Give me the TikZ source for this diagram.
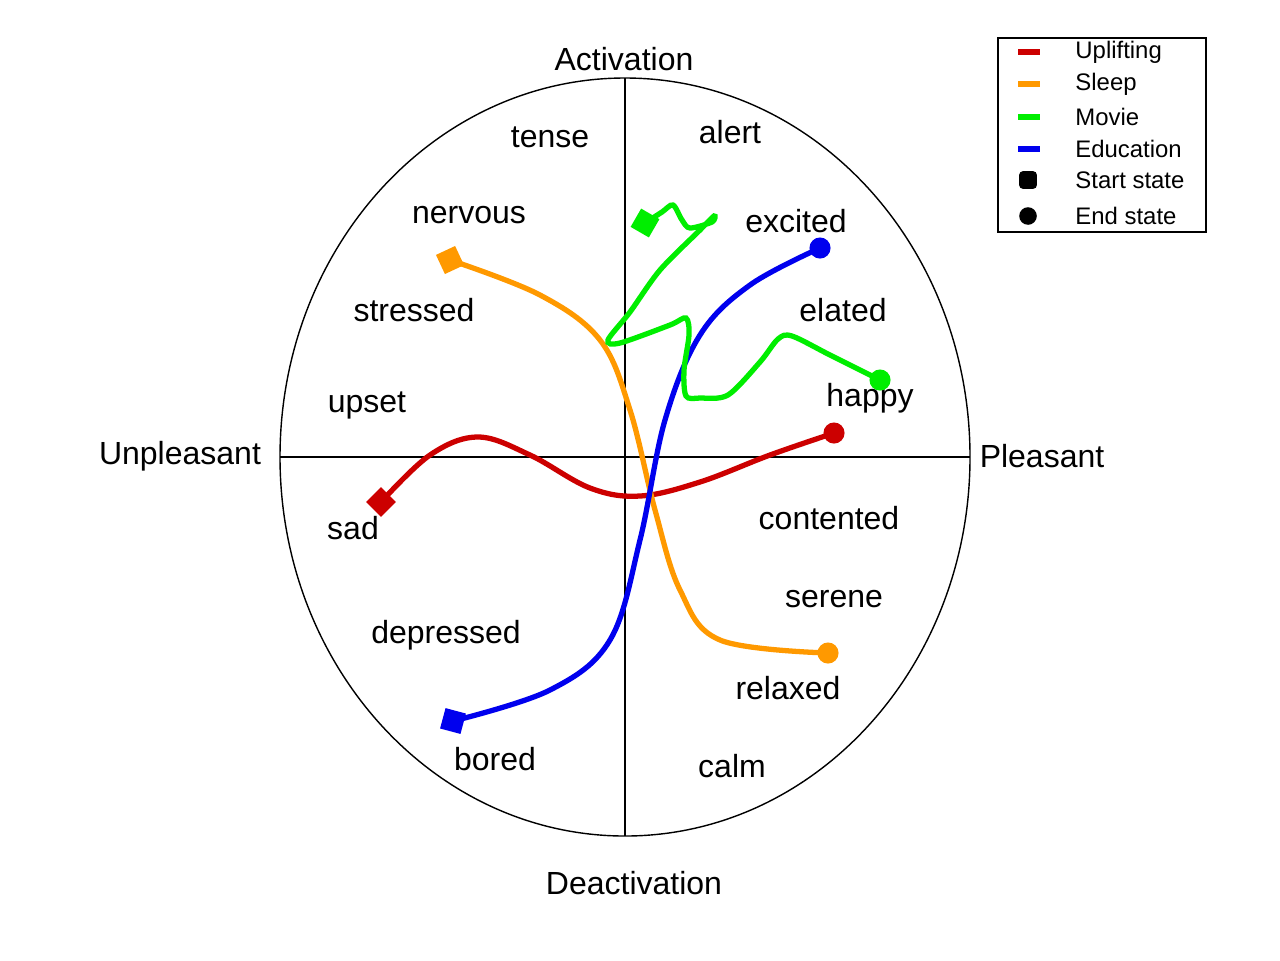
\documentclass[tikz,border=0pt]{standalone}
\usepackage{fontspec}
\setmainfont{Liberation Sans}
\definecolor{upred}{RGB}{204,0,0}
\definecolor{sleeporange}{RGB}{255,153,0}
\definecolor{moviegreen}{RGB}{0,238,0}
\definecolor{edublue}{RGB}{0,0,238}
\begin{document}
\begin{tikzpicture}[x=0.01cm,y=-0.01cm,
  emo/.style={font=\fontsize{9.1}{11}\selectfont},
  path/.style={line width=1.5pt},
  startmark/.style={fill,minimum size=6pt,inner sep=0pt},
  endmark/.style={circle,fill,minimum size=6pt,inner sep=0pt},
  legtext/.style={font=\fontsize{6.8}{8}\selectfont,anchor=west}]
\useasboundingbox (0,0) rectangle (1280,960);
\draw (625,457) ellipse [x radius=345, y radius=379];
\draw (625,78) -- (625,836);
\draw (280,457) -- (970,457);

\node[emo] (act) at (624,59) {Activation};
\node[emo] (deact) at (634,883) {Deactivation};
\node[emo] (unpl) at (180,456) {Unpleasant};
\node[emo] (pl) at (1042,456) {Pleasant};

\node[emo] (tense) at (550,137) {tense};
\node[emo] (alert) at (730,132) {alert};
\node[emo] (nervous) at (469,215) {nervous};
\node[emo] (excited) at (796,221) {excited};
\node[emo] (stressed) at (414,310) {stressed};
\node[emo] (elated) at (843,310) {elated};
\node[emo] (upset) at (367,405) {upset};
\node[emo] (happy) at (870,398) {happy};
\node[emo] (sad) at (353,528) {sad};
\node[emo] (contented) at (829,518) {contented};
\node[emo] (serene) at (834,599) {serene};
\node[emo] (depressed) at (446,635) {depressed};
\node[emo] (relaxed) at (788,688) {relaxed};
\node[emo] (bored) at (495,759) {bored};
\node[emo] (calm) at (732,766) {calm};

% trajectories
\draw[path,upred] plot[smooth,tension=0.6] coordinates {(381,502) (430,455) (478,437) (530,455) (590,488) (640,496) (700,482) (770,455) (834,433)};
\draw[path,sleeporange] plot[smooth,tension=0.6] coordinates {(450,260) (540,295) (600,340) (630,410) (655,510) (680,590) (720,640) (828,653)};
\draw[path,edublue] plot[smooth,tension=0.6] coordinates {(453,721) (550,690) (610,640) (640,540) (665,420) (700,335) (750,285) (820,248)};
\draw[path,moviegreen] plot[smooth,tension=0.5] coordinates {(645,223) (662,212) (673,205) (682,220) (690,228) (712,222) (714,216) (700,230) (660,270) (630,312) (608,340) (620,343) (670,325) (686,318) (689,335) (684,370) (686,396) (700,398) (728,395) (760,362) (778,339) (792,336) (830,355) (880,380)};

\node[startmark,upred,rotate=45] (sadstart) at (381,502) {};
\node[endmark,upred] (upend) at (834,433) {};
\node[startmark,sleeporange,rotate=25] (sleepstart) at (450,260) {};
\node[endmark,sleeporange] (sleepend) at (828,653) {};
\node[startmark,edublue,rotate=-15] (edustart) at (453,721) {};
\node[endmark,edublue] (eduend) at (820,248) {};
\node[startmark,moviegreen,rotate=-30] (moviestart) at (645,223) {};
\node[endmark,moviegreen] (movieend) at (880,380) {};

% legend
\draw (998,38) rectangle (1206,232);
\foreach \c/\t/\y in {upred/Uplifting/52, sleeporange/Sleep/84, moviegreen/Movie/117, edublue/Education/149} {
  \draw[\c,line width=1.5pt] (1018,\y) -- (1040,\y);
  \node[legtext] at (1063,\y) {\t};
}
\node[fill,minimum size=5pt,inner sep=0pt,rounded corners=1pt] (legsq) at (1028,180) {};
\node[legtext] at (1063,180) {Start state};
\node[circle,fill,minimum size=5pt,inner sep=0pt] (legdot) at (1028,216) {};
\node[legtext] at (1063,216) {End state};
\end{tikzpicture}
\end{document}
